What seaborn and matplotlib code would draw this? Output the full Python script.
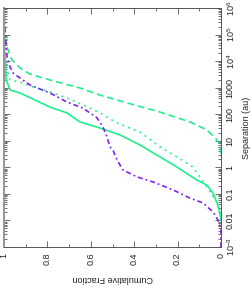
import numpy as np
import pandas as pd
import matplotlib
matplotlib.use("Agg")
import matplotlib.pyplot as plt
import seaborn as sns
from matplotlib.ticker import FixedLocator, LogLocator, NullFormatter

sns.set_style("ticks")
plt.rcParams["font.family"] = ["Liberation Sans", "DejaVu Sans"]
plt.rcParams["mathtext.fontset"] = "custom"
plt.rcParams["mathtext.rm"] = "Liberation Sans"

# Data: cumulative fraction vs log10(separation / au)
dashed_frac = [0.0, 0.0, 0.018, 0.065, 0.143, 0.281, 0.465, 0.558, 0.65, 0.788, 0.88, 0.926, 0.963, 0.99, 1.0]
dashed_logsep = [0.5, 0.77, 1.03, 1.41, 1.71, 2.08, 2.50, 2.72, 2.99, 3.29, 3.51, 3.74, 4.04, 4.6, 5.8]

dotted_frac = [0.0, 0.005, 0.018, 0.041, 0.065, 0.097, 0.129, 0.203, 0.281, 0.373, 0.479, 0.558, 0.636, 0.710, 0.788, 0.866, 0.926, 0.972, 0.99, 1.0]
dotted_logsep = [-2.0, -1.72, -1.34, -1.04, -0.74, -0.36, 0.01, 0.39, 0.77, 1.33, 1.67, 2.05, 2.35, 2.61, 2.84, 3.02, 3.21, 3.29, 3.8, 5.5]

solid_frac = [0.0, 0.005, 0.018, 0.037, 0.065, 0.111, 0.203, 0.295, 0.373, 0.465, 0.558, 0.650, 0.696, 0.710, 0.788, 0.866, 0.926, 0.972, 0.99, 1.0]
solid_logsep = [-1.98, -1.72, -1.34, -0.97, -0.67, -0.48, 0.01, 0.46, 0.84, 1.22, 1.48, 1.71, 1.97, 2.05, 2.27, 2.57, 2.80, 2.91, 3.3, 5.0]

dashdot_frac = [0.0, 0.0, 0.014, 0.037, 0.083, 0.143, 0.221, 0.313, 0.387, 0.452, 0.479, 0.498, 0.512, 0.525, 0.544, 0.571, 0.636, 0.710, 0.788, 0.880, 0.926, 0.958, 0.972, 0.986, 0.995, 1.0]
dashdot_logsep = [-3.0, -2.36, -1.98, -1.68, -1.34, -1.16, -0.85, -0.55, -0.36, -0.10, 0.28, 0.65, 0.77, 1.14, 1.52, 1.86, 2.23, 2.46, 2.80, 3.10, 3.36, 3.55, 3.78, 4.15, 5.06, 6.0]

frac_ticks = [0, 0.2, 0.4, 0.6, 0.8, 1]
frac_labels = ["0", "0.2", "0.4", "0.6", "0.8", "1"]
sep_ticks = [1e-3, 1e-2, 1e-1, 1, 10, 100, 1000, 1e4, 1e5, 1e6]
sep_labels = ["10$^{-3}$", "0.01", "0.1", "1", "10", "100", "1000", "10$^4$", "10$^5$", "10$^6$"]

green = "#1ef08c"
purple = "#7f22f0"

fig = plt.figure(figsize=(2.52, 2.93), dpi=100)
ax = fig.add_axes([4/252, 1-247/293, (221-4)/252, (247-8)/293])

curves = [
    (dashed_frac, dashed_logsep, green, (0, (4.0, 2.4))),
    (dotted_frac, dotted_logsep, green, (0, (1.1, 2.6))),
    (solid_frac, solid_logsep, green, "-"),
    (dashdot_frac, dashdot_logsep, purple, (0, (3.0, 1.8, 1.1, 1.8))),
]
for fr, ls_, col, sty in curves:
    df = pd.DataFrame({"frac": fr, "sep": 10 ** np.array(ls_)})
    sns.lineplot(data=df, x="frac", y="sep", sort=False, estimator=None,
                 color=col, linestyle=sty, linewidth=1.2, ax=ax)

ax.set_yscale("log")
ax.set_xlim(1, 0)
ax.set_ylim(1e-3, 1e6)

ax.xaxis.set_major_locator(FixedLocator(frac_ticks))
ax.set_xticklabels(frac_labels)
ax.xaxis.set_minor_locator(FixedLocator([0.1, 0.3, 0.5, 0.7, 0.9]))
ax.yaxis.set_major_locator(FixedLocator(sep_ticks))
ax.set_yticklabels(sep_labels)
ax.yaxis.set_minor_locator(LogLocator(base=10, subs=np.arange(2, 10), numticks=20))
ax.yaxis.set_minor_formatter(NullFormatter())

ax.yaxis.tick_right()
ax.yaxis.set_label_position("right")
ax.tick_params(which="both", direction="in", top=True, bottom=True, left=True, right=True,
               color="#555555", width=0.6)
ax.tick_params(which="major", length=4)
ax.tick_params(which="minor", length=2)
ax.tick_params(axis="x", labelrotation=90, labelsize=6.5, pad=4, labelcolor="#222222")
ax.tick_params(axis="y", labelrotation=90, labelsize=6.5, pad=3, labelcolor="#222222")
for lab in ax.get_yticklabels():
    lab.set_va("center")
    lab.set_ha("left")

for s in ax.spines.values():
    s.set_color("#555555")
    s.set_linewidth(0.7)
ax.spines["left"].set_color("#999999")
ax.spines["left"].set_linewidth(1.5)

ax.set_xlabel("Cumulative Fraction", fontsize=6.5, rotation=180, color="#222222", labelpad=6)
ax.set_ylabel("Separation (au)", fontsize=6.5, rotation=90, color="#222222", labelpad=4)

fig.savefig("out.png", dpi=100)
